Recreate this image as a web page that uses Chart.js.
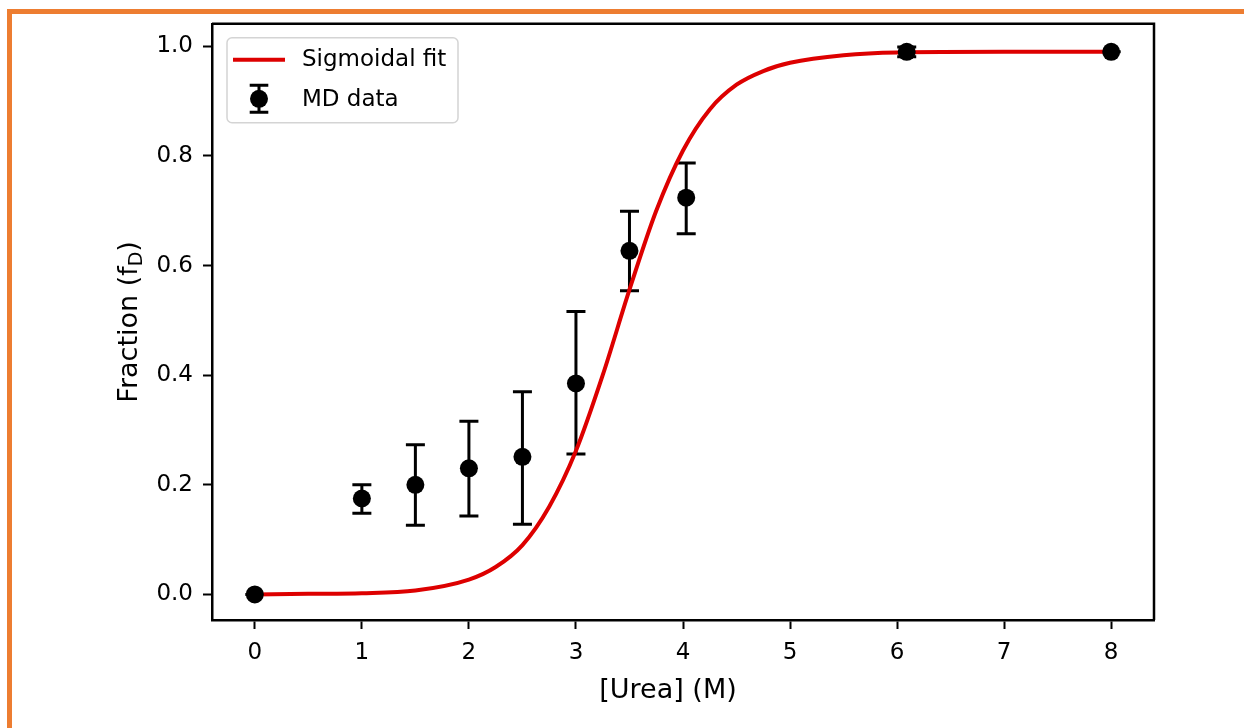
<!DOCTYPE html>
<html>
<head>
<meta charset="utf-8">
<title>Fraction vs urea</title>
<script src="https://cdn.jsdelivr.net/npm/chart.js@4.4.1/dist/chart.umd.min.js"></script>
<style>
    html, body { margin: 0; padding: 0; background: #fff; }
    #chartBox { position: absolute; left: 0; top: 0; width: 1244px; height: 728px; }
    .edge { position: absolute; background: #ed7d31; z-index: 2; }
    #edgeTop { left: 7px; top: 9px; width: 1237px; height: 5px; }
    #edgeLeft { left: 7px; top: 9px; width: 5px; height: 719px; }
</style>
</head>
<body>
<div id="chartBox"><canvas id="ureaChart" width="1244" height="728"></canvas></div>
<div class="edge" id="edgeTop"></div>
<div class="edge" id="edgeLeft"></div>
<script>
// MD data (mean with lower / upper error bounds)
const ureaConc = [0, 1, 1.5, 2, 2.5, 3, 3.5, 4.03, 6.09, 8];
const fracMean = [0.000, 0.175, 0.200, 0.230, 0.251, 0.385, 0.627, 0.724, 0.990, 0.990];
const fracLow  = [0.000, 0.148, 0.126, 0.143, 0.128, 0.256, 0.554, 0.658, 0.981, 0.990];
const fracHigh = [0.000, 0.200, 0.273, 0.316, 0.370, 0.516, 0.699, 0.787, 0.999, 0.990];

// Sigmoidal fit
const fitX = [0, 0.5, 1, 1.5, 2, 2.25, 2.5, 2.75, 3, 3.25, 3.5, 3.75, 4, 4.25, 4.5, 4.75, 5, 5.5, 6, 7, 8];
const fitY = [0.000, 0.001, 0.002, 0.007, 0.027, 0.050, 0.090, 0.160, 0.262, 0.400, 0.556, 0.700, 0.810, 0.885, 0.930, 0.955, 0.970, 0.984, 0.989, 0.990, 0.990];

const xTicks = [0, 1, 2, 3, 4, 5, 6, 7, 8];
const yTicks = [0, 0.2, 0.4, 0.6, 0.8, 1.0];

const fontFam = "'DejaVu Sans', sans-serif";
Chart.defaults.font.family = fontFam;
Chart.defaults.color = '#000';

// error bars under everything else
const errorBars = {
    id: 'errorBars',
    beforeDatasetsDraw(chart) {
        const { ctx, scales: { x, y } } = chart;
        ctx.save();
        ctx.strokeStyle = '#000';
        ctx.lineWidth = 3;
        ureaConc.forEach((u, i) => {
            const px = x.getPixelForValue(u);
            const lo = y.getPixelForValue(fracLow[i]);
            const hi = y.getPixelForValue(fracHigh[i]);
            ctx.beginPath();
            ctx.moveTo(px, lo); ctx.lineTo(px, hi);
            ctx.moveTo(px - 9.5, lo); ctx.lineTo(px + 9.5, lo);
            ctx.moveTo(px - 9.5, hi); ctx.lineTo(px + 9.5, hi);
            ctx.stroke();
        });
        ctx.restore();
    }
};

// top/right frame, legend box and axis titles
const decorations = {
    id: 'decorations',
    afterDraw(chart) {
        const { ctx, chartArea: a } = chart;
        ctx.save();
        ctx.strokeStyle = '#000';
        ctx.lineWidth = 2.5;
        ctx.beginPath();
        ctx.moveTo(a.left, a.top); ctx.lineTo(a.right, a.top); ctx.lineTo(a.right, a.bottom);
        ctx.stroke();

        // legend
        const bx = a.left + 15, by = a.top + 14, bw = 231, bh = 85;
        ctx.fillStyle = 'rgba(255,255,255,0.8)';
        ctx.strokeStyle = '#d4d4d4';
        ctx.lineWidth = 1.5;
        ctx.beginPath();
        ctx.roundRect(bx, by, bw, bh, 5);
        ctx.fill(); ctx.stroke();

        const ds = chart.data.datasets;
        ctx.strokeStyle = ds[1].borderColor;
        ctx.lineWidth = 4;
        ctx.beginPath();
        ctx.moveTo(bx + 6, by + 22); ctx.lineTo(bx + 58, by + 22);
        ctx.stroke();

        const mx = bx + 32, my = by + 61;
        ctx.strokeStyle = '#000';
        ctx.lineWidth = 3;
        ctx.beginPath();
        ctx.moveTo(mx, my - 13.5); ctx.lineTo(mx, my + 13.5);
        ctx.moveTo(mx - 9.3, my - 13.5); ctx.lineTo(mx + 9.3, my - 13.5);
        ctx.moveTo(mx - 9.3, my + 13.5); ctx.lineTo(mx + 9.3, my + 13.5);
        ctx.stroke();
        ctx.fillStyle = '#000';
        ctx.beginPath();
        ctx.arc(mx, my, 9, 0, Math.PI * 2);
        ctx.fill();

        ctx.font = '23px ' + fontFam;
        ctx.textBaseline = 'middle';
        ctx.textAlign = 'left';
        ctx.fillText(ds[1].label, bx + 75, by + 22);
        ctx.fillText(ds[0].label, bx + 75, by + 62);

        // x axis title
        ctx.font = '27px ' + fontFam;
        ctx.textBaseline = 'alphabetic';
        ctx.textAlign = 'center';
        ctx.fillText('[Urea] (M)', 668, 698);

        // y axis title: Fraction (f_D)
        ctx.textAlign = 'left';
        const main = 'Fraction (f', sub = 'D', tail = ')';
        const w1 = ctx.measureText(main).width, w3 = ctx.measureText(tail).width;
        ctx.font = '19px ' + fontFam;
        const w2 = ctx.measureText(sub).width;
        const total = w1 + w2 + w3;
        ctx.translate(137, (a.top + a.bottom) / 2);
        ctx.rotate(-Math.PI / 2);
        let tx = -total / 2;
        ctx.font = '27px ' + fontFam;
        ctx.fillText(main, tx, 0);
        tx += w1;
        ctx.font = '19px ' + fontFam;
        ctx.fillText(sub, tx, 5);
        tx += w2;
        ctx.font = '27px ' + fontFam;
        ctx.fillText(tail, tx, 0);
        ctx.restore();
    }
};

new Chart(document.getElementById('ureaChart').getContext('2d'), {
    type: 'scatter',
    data: {
        datasets: [
            {
                label: 'MD data',
                data: ureaConc.map((u, i) => ({ x: u, y: fracMean[i] })),
                backgroundColor: '#000',
                borderWidth: 0,
                pointRadius: 9,
                pointHoverRadius: 9,
                order: 0
            },
            {
                type: 'line',
                label: 'Sigmoidal fit',
                data: fitX.map((u, i) => ({ x: u, y: fitY[i] })),
                borderColor: '#dd0000',
                borderWidth: 4,
                pointRadius: 0,
                cubicInterpolationMode: 'monotone',
                fill: false,
                order: 1
            }
        ]
    },
    options: {
        responsive: false,
        animation: false,
        layout: { padding: { top: 21, right: 90, bottom: 0, left: 0 } },
        plugins: { legend: { display: false }, tooltip: { enabled: false } },
        scales: {
            x: {
                type: 'linear',
                min: -0.4, max: 8.4,
                afterBuildTicks: s => { s.ticks = xTicks.map(v => ({ value: v })); },
                afterFit: s => { s.height = 108; },
                ticks: { font: { size: 23 }, color: '#000', padding: 10, callback: v => String(v) },
                grid: { drawOnChartArea: false, drawTicks: true, tickLength: 9, tickWidth: 2, tickColor: '#000' },
                border: { display: true, color: '#000', width: 2.5 }
            },
            y: {
                type: 'linear',
                min: -0.0467, max: 1.0412,
                afterBuildTicks: s => { s.ticks = yTicks.map(v => ({ value: v })); },
                afterFit: s => { s.width = 212; },
                ticks: { font: { size: 23 }, color: '#000', padding: 10, callback: v => v.toFixed(1) },
                grid: { drawOnChartArea: false, drawTicks: true, tickLength: 9, tickWidth: 2, tickColor: '#000' },
                border: { display: true, color: '#000', width: 2.5 }
            }
        }
    },
    plugins: [errorBars, decorations]
});
</script>
</body>
</html>
